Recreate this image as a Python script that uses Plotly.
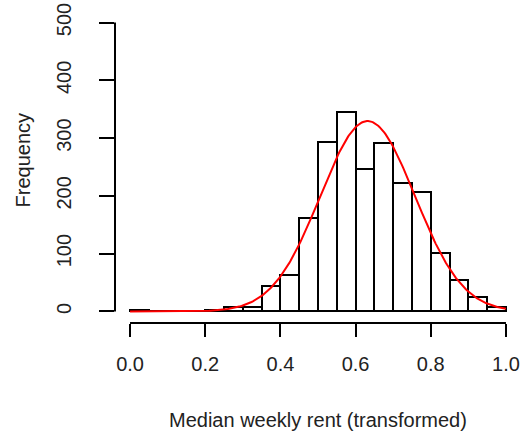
import numpy as np
import plotly.graph_objects as go

# Histogram bins (left edges) and counts
bin_left = [0.00, 0.05, 0.10, 0.15, 0.20, 0.25, 0.30, 0.35, 0.40, 0.45,
            0.50, 0.55, 0.60, 0.65, 0.70, 0.75, 0.80, 0.85, 0.90, 0.95]
counts = [2, 0, 0, 0, 3, 7, 8, 44, 63, 161,
          293, 345, 247, 292, 222, 206, 101, 54, 25, 8]
bin_width = 0.05

# Fitted normal curve parameters
fit_mean = 0.632
fit_sd = 0.126

x_ticks = [0.0, 0.2, 0.4, 0.6, 0.8, 1.0]
x_ticklabels = ["0.0", "0.2", "0.4", "0.6", "0.8", "1.0"]
y_ticks = [0, 100, 200, 300, 400, 500]
y_ticklabels = ["0", "100", "200", "300", "400", "500"]

n_total = sum(counts)
centers = [b + bin_width / 2 for b in bin_left]

xc = np.linspace(0, 1, 301)
yc = n_total * bin_width * np.exp(-0.5 * ((xc - fit_mean) / fit_sd) ** 2) / (fit_sd * np.sqrt(2 * np.pi))

FONT = "Liberation Sans, Arial, Helvetica, sans-serif"

fig = go.Figure()
fig.add_trace(go.Bar(
    x=centers, y=counts, width=[bin_width] * len(counts),
    marker=dict(color="white", line=dict(color="black", width=2)),
    showlegend=False, hoverinfo="x+y",
))
fig.add_trace(go.Scatter(
    x=xc, y=yc, mode="lines", line=dict(color="#ff0000", width=2),
    showlegend=False,
))

fig.update_layout(
    width=525, height=437,
    margin=dict(l=115, r=4, t=11, b=114, autoexpand=False),
    paper_bgcolor="white", plot_bgcolor="white",
    font=dict(family=FONT, size=20, color="black"),
    bargap=0,
    xaxis=dict(
        range=[-0.04, 1.04], tickvals=x_ticks, ticktext=x_ticklabels,
        showgrid=False, zeroline=False, showline=False, automargin=False,
        ticks="outside", ticklen=13, tickwidth=2, tickcolor="black",
        ticklabelstandoff=10, ticklabeloverflow="allow",
        tickfont=dict(family=FONT, size=20, color="#222222"),
    ),
    yaxis=dict(
        range=[-20, 520], tickvals=y_ticks, ticktext=y_ticklabels,
        showgrid=False, zeroline=False, showline=False, automargin=False,
        ticks="outside", ticklen=15, tickwidth=2, tickcolor="black",
        tickangle=-90, ticklabelstandoff=20, ticklabeloverflow="allow",
        tickfont=dict(family=FONT, size=20, color="#222222"),
    ),
    shapes=[
        dict(type="line", xref="x", yref="paper", x0=0, x1=1, y0=0, y1=0,
             line=dict(color="black", width=2)),
        dict(type="line", xref="paper", yref="y", x0=0, x1=0, y0=0, y1=500,
             line=dict(color="black", width=2)),
    ],
    annotations=[
        dict(text="Median weekly rent (transformed)", xref="paper", yref="paper",
             x=0.5, y=-0.311, xanchor="center", yanchor="middle", showarrow=False,
             font=dict(family=FONT, size=20, color="#222222")),
        dict(text="Frequency", xref="paper", yref="paper",
             x=-0.226, y=0.522, xanchor="center", yanchor="middle", showarrow=False,
             textangle=-90, font=dict(family=FONT, size=20, color="#222222")),
    ],
)

# remove the default 8px page margin so the figure fills the window exactly
fig.write_html("out.html", config={"displayModeBar": False},
               post_script="document.body.style.margin='0';")
